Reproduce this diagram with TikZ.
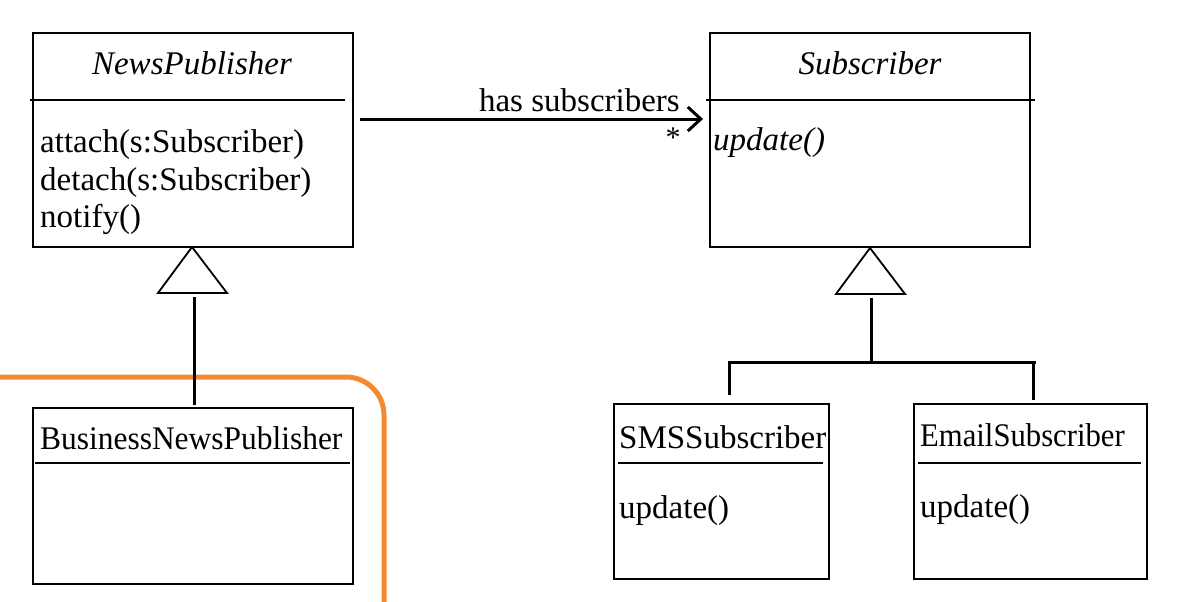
\documentclass[tikz,border=0pt]{standalone}
\usepackage{fontspec}
\setmainfont{Liberation Serif}
\usetikzlibrary{arrows.meta}
\definecolor{hlorange}{RGB}{245,137,48}
\begin{document}
\begin{tikzpicture}[x=1pt,y=-1pt,
  cls/.style={draw=black,line width=1.8pt,fill=white,inner sep=0pt,anchor=north west},
  sep/.style={draw=black,line width=1.8pt},
  txt/.style={inner sep=0pt,anchor=base west,font=\fontsize{33}{38}\selectfont},
  ttl/.style={inner sep=0pt,anchor=base,font=\fontsize{33}{38}\selectfont\itshape},
  conn/.style={draw=black,line width=3pt},
  gen/.style={draw=black,line width=1.8pt,fill=white,line join=miter}]
\useasboundingbox (0,0) rectangle (1179,602);
% orange highlight
\draw[hlorange,line width=5pt,rounded corners=38pt] (-20,377) -- (384,377) -- (384,640);
% NewsPublisher
\node[cls,minimum width=320pt,minimum height=214pt] (np) at (32,32) {};
\draw[sep] (30,100) -- (345,100);
\node[ttl] (npt) at (192,75) {NewsPublisher};
\node[txt] (m1) at (40,152) {attach(s:Subscriber)};
\node[txt] (m2) at (40,190) {detach(s:Subscriber)};
\node[txt] (m3) at (40,227) {notify()};
% Business
\node[cls,minimum width=320pt,minimum height=176pt] (bnp) at (32,407) {};
\draw[sep] (35,463) -- (350,463);
\node[txt] (bt) at (40,449) {\scalebox{0.953}[1]{BusinessNewsPublisher}};
% Subscriber
\node[cls,minimum width=320pt,minimum height=214pt] (sub) at (709,32) {};
\draw[sep] (706,100) -- (1035,100);
\node[ttl] (subt) at (870,75) {Subscriber};
\node[txt,font=\fontsize{33}{38}\selectfont\itshape] (su) at (713,150) {update()};
% SMS
\node[cls,minimum width=215pt,minimum height=175pt] (sms) at (613,403) {};
\draw[sep] (618,463) -- (823,463);
\node[txt] (smst) at (619,448) {SMSSubscriber};
\node[txt] (smsu) at (619,518) {update()};
% Email
\node[cls,minimum width=233pt,minimum height=175pt] (em) at (913,403) {};
\draw[sep] (918,463) -- (1141,463);
\node[txt] (emt) at (920,446) {\scalebox{0.93}[1]{EmailSubscriber}};
\node[txt] (emu) at (920,517) {update()};
% association
\coordinate (a1) at (360,119);
\coordinate (a2) at (703,119);
\draw[conn,-{Straight Barb[length=13pt,width=24pt,line width=3pt]}] (a1) -- (a2);
\node[inner sep=0pt,anchor=base east,font=\fontsize{33}{38}\selectfont] (lab) at (680,112) {has subscribers};
\node[inner sep=0pt,anchor=base,font=\fontsize{30}{36}\selectfont] (star) at (673,147) {*};
% generalization left
\draw[gen] (192,247) -- (227,293) -- (158,293) -- cycle;
\coordinate (g1) at (194,297);
\draw[conn] (g1) -- (194,405);
% generalization right
\draw[gen] (870,248) -- (905,294) -- (836,294) -- cycle;
\coordinate (g2) at (871,298);
\coordinate (jl) at (729,362);
\coordinate (jr) at (1033,362);
\draw[conn] (g2) -- (871,362);
\draw[conn] (729,395) -- (jl) -- (1036,362);
\draw[conn] (jr) -- (1033,400);
\end{tikzpicture}
\end{document}
